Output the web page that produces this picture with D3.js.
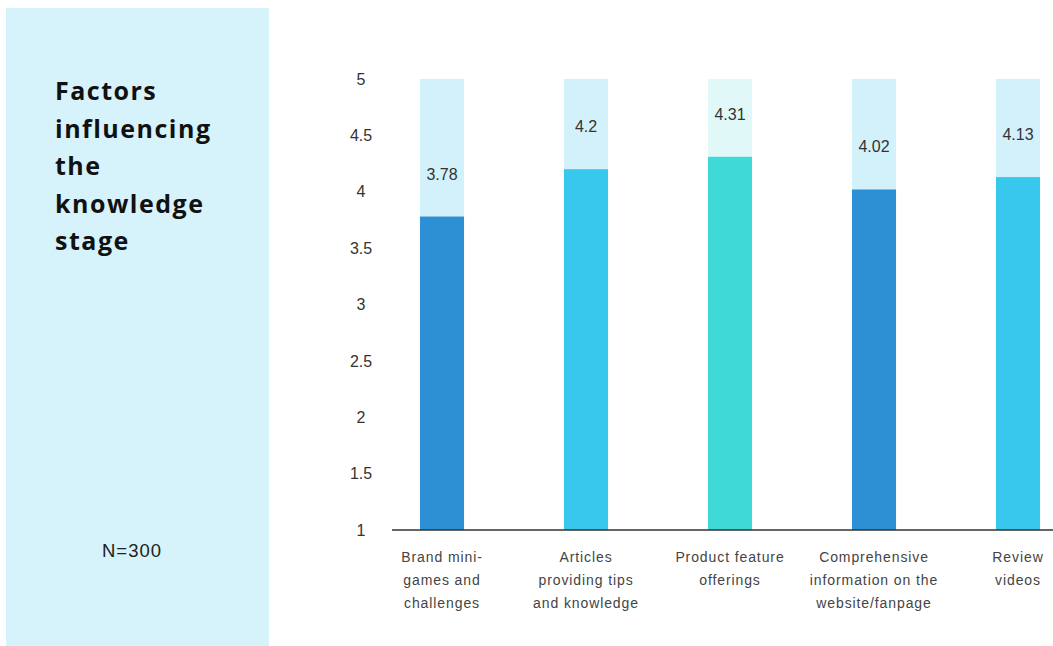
<!DOCTYPE html>
<html>
<head>
<meta charset="utf-8">
<script src="https://cdn.jsdelivr.net/npm/d3@7"></script>
<style>
  html, body { margin: 0; padding: 0; background: #ffffff; }
  svg { display: block; }
</style>
</head>
<body>
<svg id="chart" width="1053" height="646"></svg>
<script>
// Factor labels (line-broken as displayed) and their mean scores
const categories = [
  ["Brand mini-", "games and", "challenges"],
  ["Articles", "providing tips", "and knowledge"],
  ["Product feature", "offerings"],
  ["Comprehensive", "information on the", "website/fanpage"],
  ["Review", "videos"]
];
const values = [3.78, 4.2, 4.31, 4.02, 4.13];
const barColors = ["#2e90d4", "#38c8ee", "#3fdad8", "#2e90d4", "#38c8ee"];
const trackColors = ["#d2f1fa", "#d2f1fa", "#e0f8f8", "#d2f1fa", "#d2f1fa"];
const yTicks = [1, 1.5, 2, 2.5, 3, 3.5, 4, 4.5, 5];
const titleLines = ["Factors", "influencing", "the", "knowledge", "stage"];
const sampleNote = "N=300";

const svg = d3.select("#chart");

// Left side panel with title and sample size
svg.append("rect")
  .attr("x", 6).attr("y", 8)
  .attr("width", 263).attr("height", 646)
  .attr("fill", "#d6f2fa");

svg.append("g")
  .selectAll("text")
  .data(titleLines)
  .join("text")
  .attr("x", 55)
  .attr("y", (d, i) => 100 + i * 37.6)
  .attr("font-family", "'Open Sans', sans-serif")
  .attr("font-weight", 700)
  .attr("font-size", 25)
  .attr("letter-spacing", 1.5)
  .attr("fill", "#111")
  .text(d => d);

svg.append("text")
  .attr("x", 132).attr("y", 557)
  .attr("text-anchor", "middle")
  .attr("font-family", "'Liberation Sans', Arial, sans-serif")
  .attr("font-size", 18.5)
  .attr("letter-spacing", 1)
  .attr("fill", "#222")
  .text(sampleNote);

// Scales
const x = d3.scaleBand()
  .domain(d3.range(values.length))
  .range([370, 1090])
  .paddingInner(0.694)
  .paddingOuter(0.347);

const y = d3.scaleLinear()
  .domain([1, 5])
  .range([530, 79]);

// Y axis: labels only, centred
const yAxis = svg.append("g")
  .attr("transform", "translate(361,0)")
  .call(d3.axisLeft(y).tickValues(yTicks).tickSize(0).tickPadding(0).tickFormat(d3.format("")));
yAxis.select(".domain").remove();
yAxis.selectAll("text")
  .attr("text-anchor", "middle")
  .attr("font-family", "'Liberation Sans', Arial, sans-serif")
  .attr("font-size", 16)
  .attr("fill", "#333");

// Background tracks (full scale)
svg.append("g")
  .selectAll("rect")
  .data(values)
  .join("rect")
  .attr("x", (d, i) => x(i))
  .attr("width", x.bandwidth())
  .attr("y", y(5))
  .attr("height", y(1) - y(5))
  .attr("fill", (d, i) => trackColors[i]);

// Value bars
svg.append("g")
  .selectAll("rect")
  .data(values)
  .join("rect")
  .attr("x", (d, i) => x(i))
  .attr("width", x.bandwidth())
  .attr("y", d => y(d))
  .attr("height", d => y(1) - y(d))
  .attr("fill", (d, i) => barColors[i]);

// Value labels above each bar
svg.append("g")
  .selectAll("text")
  .data(values)
  .join("text")
  .attr("x", (d, i) => x(i) + x.bandwidth() / 2)
  .attr("y", d => y(d) - 37)
  .attr("text-anchor", "middle")
  .attr("font-family", "'Liberation Sans', Arial, sans-serif")
  .attr("font-size", 16)
  .attr("fill", "#333")
  .text(d => d);

// Baseline
svg.append("line")
  .attr("x1", 392).attr("x2", 1053)
  .attr("y1", y(1)).attr("y2", y(1))
  .attr("stroke", "#333")
  .attr("stroke-width", 1.5);

// Category labels
const cat = svg.append("g")
  .selectAll("text")
  .data(categories)
  .join("text")
  .attr("text-anchor", "middle")
  .attr("font-family", "'Liberation Sans', Arial, sans-serif")
  .attr("font-size", 14)
  .attr("letter-spacing", 0.9)
  .attr("fill", "#444");
cat.each(function(lines, i) {
  d3.select(this).selectAll("tspan")
    .data(lines)
    .join("tspan")
    .attr("x", x(i) + x.bandwidth() / 2)
    .attr("y", (d, j) => 562 + j * 22.8)
    .text(d => d);
});
</script>
</body>
</html>
